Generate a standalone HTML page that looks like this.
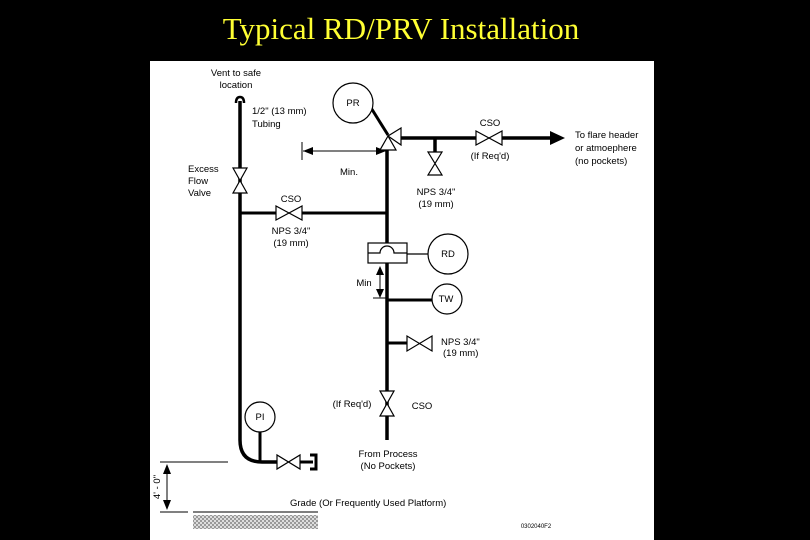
<!DOCTYPE html><html><head><style>body{margin:0;background:#000;}svg{display:block}</style></head><body>
<svg width="810" height="540" viewBox="0 0 810 540" xmlns="http://www.w3.org/2000/svg" font-family="Liberation Sans, sans-serif">
<defs><pattern id="hp" width="4" height="4" patternUnits="userSpaceOnUse"><rect width="4" height="4" fill="#ddd"/><rect width="2" height="2" fill="#999"/><rect x="2" y="2" width="2" height="2" fill="#999"/></pattern></defs>
<rect width="810" height="540" fill="#000"/>
<text x="401" y="39" fill="#ffff33" font-family="Liberation Serif, serif" font-size="31" text-anchor="middle">Typical RD/PRV Installation</text>
<rect x="150" y="61" width="504" height="479" fill="#fff"/>
<g stroke="#000" fill="none">
<path d="M236,103 Q236,97 240,97 Q244,97 244,103" stroke-width="2.5"/>
<path d="M240,101 V440 Q240,462 262,462 H277" stroke-width="3.5"/>
<path d="M300,462 H313 M310,455 H316 V469 H310" stroke-width="3"/>
<path d="M260,432 V462" stroke-width="3"/>
<path d="M240,213 H276 M302,213 H387" stroke-width="3"/>
<path d="M387,150 V440" stroke-width="3.5"/>
<path d="M387,300 H432 M387,343 H407" stroke-width="3"/>
<path d="M401,138 H476 M502,138 H550 M435,138 V152" stroke-width="3.5"/>
<path d="M368,103 L388,135" stroke-width="3"/>
<path d="M407,254 H428" stroke-width="1.2"/>
<path d="M302,142 V160 M303,151 H386" stroke-width="1"/>
<path d="M380,267 V297 M373,298 H386" stroke-width="1"/>
<path d="M160,462 H228 M160,512 H188 M167,468 V506" stroke-width="1"/>
</g>
<g fill="#000">
<path d="M550,131 L565,138 L550,145 Z"/>
<path d="M303,151 L313,147 L313,155 Z M386,151 L376,147 L376,155 Z"/>
<path d="M380,266 L376,275 L384,275 Z M380,298 L376,289 L384,289 Z"/>
<path d="M167,464 L163,474 L171,474 Z M167,510 L163,500 L171,500 Z"/>
</g>
<g fill="#fff" stroke="#000" stroke-width="1.2">
<path d="M233,168 H247 L233,193 H247 Z"/>
<path d="M276,206 V220 L302,206 V220 Z"/>
<path d="M277,455 V469 L300,455 V469 Z"/>
<path d="M476,131 V145 L502,131 V145 Z"/>
<path d="M428,152 H442 L428,175 H442 Z"/>
<path d="M407,336 V351 L432,336 V351 Z"/>
<path d="M380,391 H394 L380,416 H394 Z"/>
<path d="M388,136 L380,150 H396 Z"/>
<path d="M388,136 L401,128 V145 Z"/>
<circle cx="353" cy="103" r="20"/>
<circle cx="448" cy="254" r="20"/>
<circle cx="447" cy="299" r="15"/>
<circle cx="260" cy="417" r="15"/>
<rect x="368" y="243" width="39" height="20"/>
<path d="M368,253 H380 A7,7 0 0 1 394,253 H407" fill="none"/>
</g>
<path d="M193,512 H318" stroke="#555" stroke-width="1.5"/>
<rect x="193" y="515" width="125" height="14" fill="url(#hp)"/>
<g font-size="9.5" fill="#000">
<text x="236" y="76" text-anchor="middle">Vent to safe</text>
<text x="236" y="88" text-anchor="middle">location</text>
<text x="252" y="114">1/2" (13 mm)</text>
<text x="252" y="127">Tubing</text>
<text x="188" y="172">Excess</text>
<text x="188" y="184">Flow</text>
<text x="188" y="196">Valve</text>
<text x="353" y="106" text-anchor="middle">PR</text>
<text x="490" y="126" text-anchor="middle">CSO</text>
<text x="490" y="159" text-anchor="middle">(If Req'd)</text>
<text x="575" y="138">To flare header</text>
<text x="575" y="151">or atmoephere</text>
<text x="575" y="164">(no pockets)</text>
<text x="349" y="175" text-anchor="middle">Min.</text>
<text x="436" y="195" text-anchor="middle">NPS 3/4"</text>
<text x="436" y="207" text-anchor="middle">(19 mm)</text>
<text x="291" y="202" text-anchor="middle">CSO</text>
<text x="291" y="234" text-anchor="middle">NPS 3/4"</text>
<text x="291" y="246" text-anchor="middle">(19 mm)</text>
<text x="448" y="257" text-anchor="middle">RD</text>
<text x="364" y="286" text-anchor="middle">Min</text>
<text x="446" y="302" text-anchor="middle">TW</text>
<text x="441" y="345">NPS 3/4"</text>
<text x="443" y="356">(19 mm)</text>
<text x="352" y="407" text-anchor="middle">(If Req'd)</text>
<text x="422" y="409" text-anchor="middle">CSO</text>
<text x="260" y="420" text-anchor="middle">PI</text>
<text x="388" y="457" text-anchor="middle">From Process</text>
<text x="388" y="469" text-anchor="middle">(No Pockets)</text>
<text x="290" y="506">Grade (Or Frequently Used Platform)</text>
<text x="160" y="487" text-anchor="middle" transform="rotate(-90 160 487)">4' - 0"</text>
<text x="536" y="528" font-size="6" text-anchor="middle">0302040F2</text>
</g>
</svg></body></html>
